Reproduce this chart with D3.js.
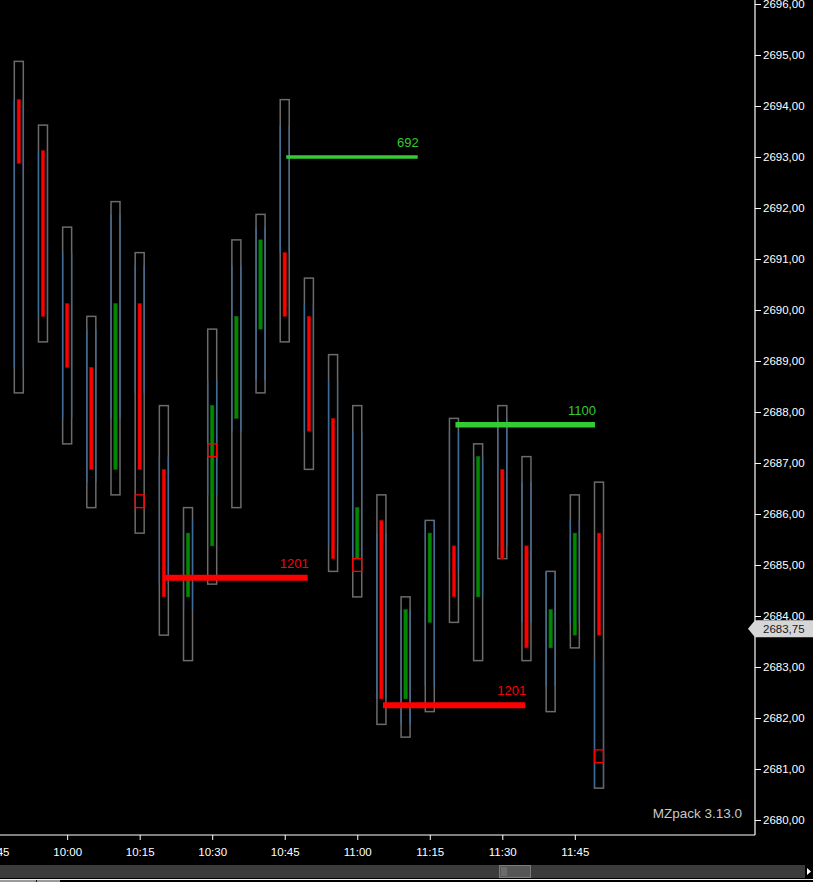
<!DOCTYPE html>
<html><head><meta charset="utf-8">
<script src="https://cdn.jsdelivr.net/npm/d3@7"></script>
<style>
html,body{margin:0;padding:0;background:#000;overflow:hidden}
svg{display:block}
text{font-family:"Liberation Sans",Arial,sans-serif}
</style></head>
<body>
<svg id="chart" width="813" height="882"></svg>
<script>
// ---- data ----
const times  = ["09:50","09:55","10:00","10:05","10:10","10:15","10:20","10:25","10:30","10:35","10:40","10:45","10:50","10:55","11:00","11:05","11:10","11:15","11:20","11:25","11:30","11:35","11:40","11:45","11:50"];
const opens  = [2694,2693,2690,2688.75,2687,2690,2686.75,2684.5,2685.5,2688,2689.75,2691,2689.75,2687.75,2685.25,2685.75,2682.5,2684,2685.25,2684.5,2686.75,2685.25,2683.5,2683.75,2685.5];
const highs  = [2694.75,2693.5,2691.5,2689.75,2692,2691,2688,2686,2689.5,2691.25,2691.75,2694,2690.5,2689,2688,2686.25,2684.25,2685.75,2687.75,2687.25,2688,2687,2684.75,2686.25,2686.5];
const lows   = [2688.5,2689.5,2687.5,2686.25,2686.5,2685.75,2683.75,2683.25,2684.75,2686.25,2688.5,2689.5,2687,2685,2684.5,2682,2681.75,2682.25,2684,2683.25,2685.25,2683.25,2682.25,2683.5,2680.75];
const closes = [2693,2690,2689,2687,2690,2687,2684.5,2685.5,2688,2689.75,2691.25,2690,2687.75,2685.25,2686,2682.5,2684,2685.5,2684.5,2687,2685.25,2683.5,2684,2685.5,2683.75];
const vaHighs = [2694,2693,2691,2689.5,2691.75,2690.75,2687,2685.75,2688.5,2690.75,2691.5,2693.5,2690,2688.5,2687.5,2685.5,2684,2685.75,2687.5,2687,2687.75,2686.5,2684.75,2685.75,2683];
const vaLows  = [2689,2690,2688,2686.75,2688,2688.5,2684.75,2684.25,2686.5,2687.75,2688.75,2691.25,2687.75,2685.5,2685.25,2682.5,2682,2682.75,2685,2684.5,2685.5,2684,2682.75,2684,2680.75];
const markTimes  = ["10:15","10:30","11:00","11:50"];
const markPrices = [2686.25,2687.25,2685,2681.25];
const levelPrices  = [2693,2687.75,2684.75,2682.25];
const levelVolumes = [692,1100,1201,1201];
const levelSides   = ["buy","buy","sell","sell"];
const levelStarts  = ["10:45","11:20","10:20","11:05"];
const levelEnds    = ["11:12:30","11:49:10","10:49:45","11:34:45"];
const xTickTimes = ["09:45","10:00","10:15","10:30","10:45","11:00","11:15","11:30","11:45"];
const yTickValues = d3.range(2680, 2697, 1);
const lastPrice = 2683.75;
const watermark = "MZpack 3.13.0";

// ---- scales ----
const parseT = s => (s.length > 5 ? d3.timeParse("%H:%M:%S") : d3.timeParse("%H:%M"))(s);
const W = 813, H = 882;
const axisX = 755, axisY = 835;
const x = d3.scaleTime().domain([parseT("09:50"), parseT("11:50")]).range([18.8, 599]);
const y = d3.scaleLinear().domain([2680, 2696]).range([820, 4]);
const half = (y(0) - y(0.25)) / 2;   // half a tick in px
const fmt = v => d3.format(".2f")(v).replace(".", ",");
const sideColor = {buy: "#33cc33", sell: "#ff0000"};
const widthScale = d3.scaleLinear().domain([0, 1201]).range([0, 6]);

const svg = d3.select("#chart");
svg.append("rect").attr("width", W).attr("height", H).attr("fill", "#000");

const plot = svg.append("g");
plot.append("clipPath").attr("id", "clip").append("rect")
  .attr("x", 0).attr("y", 0).attr("width", axisX).attr("height", axisY);
const g = plot.append("g").attr("clip-path", "url(#clip)");

const candles = times.map((t, i) => ({
  t: parseT(t), o: opens[i], h: highs[i], l: lows[i], c: closes[i], vh: vaHighs[i], vl: vaLows[i]
}));
const bw = 9;

// range boxes
g.selectAll("rect.box").data(candles).enter().append("rect")
  .attr("class", "box")
  .attr("x", d => x(d.t) - bw / 2).attr("width", bw)
  .attr("y", d => y(d.h) - half).attr("height", d => y(d.l) - y(d.h) + 2 * half)
  .attr("fill", "none").attr("stroke", "#6b6b6b").attr("stroke-width", 1.5);

// value-area side lines
[-1, 1].forEach(s => {
  g.selectAll("line.va" + (s > 0 ? "r" : "l")).data(candles).enter().append("line")
    .attr("x1", d => x(d.t) + s * bw / 2).attr("x2", d => x(d.t) + s * bw / 2)
    .attr("y1", d => y(d.vh) - half).attr("y2", d => y(d.vl) + half)
    .attr("stroke", "#3f6c96").attr("stroke-width", 1.2);
});

// bodies
g.selectAll("rect.body").data(candles).enter().append("rect")
  .attr("class", "body")
  .attr("x", d => x(d.t) - 1.7).attr("width", 3.4)
  .attr("y", d => y(Math.max(d.o, d.c)) - half)
  .attr("height", d => Math.abs(y(d.o) - y(d.c)) + 2 * half)
  .attr("fill", d => d.c >= d.o ? "#008a00" : "#ff0000")
  .attr("stroke", d => d.c >= d.o ? "#0a6a0a" : "#b00000").attr("stroke-width", 0.6);

// red marker cells
g.selectAll("rect.mark").data(markTimes.map((t, i) => ({t: parseT(t), p: markPrices[i]}))).enter().append("rect")
  .attr("x", d => x(d.t) - bw / 2).attr("width", bw)
  .attr("y", d => y(d.p) - half).attr("height", 2 * half)
  .attr("fill", "none").attr("stroke", "#ff0000").attr("stroke-width", 1.3);

// levels
const levels = levelPrices.map((p, i) => ({
  p, v: levelVolumes[i], side: levelSides[i], s: parseT(levelStarts[i]), e: parseT(levelEnds[i])
}));
g.selectAll("line.level").data(levels).enter().append("line")
  .attr("x1", d => x(d.s) + 1.5).attr("x2", d => x(d.e))
  .attr("y1", d => y(d.p)).attr("y2", d => y(d.p))
  .attr("stroke", d => sideColor[d.side]).attr("stroke-width", d => widthScale(d.v));
g.selectAll("text.level").data(levels).enter().append("text")
  .attr("x", d => x(d.e) + 1).attr("y", d => y(d.p) - 10)
  .attr("text-anchor", "end").attr("font-size", "13px")
  .attr("fill", d => sideColor[d.side]).text(d => d.v);

// watermark
svg.append("text").attr("x", 742).attr("y", 818).attr("text-anchor", "end")
  .attr("font-size", "13.5px").attr("fill", "#c8c8c8").text(watermark);

// ---- axes ----
svg.append("line").attr("x1", axisX).attr("x2", axisX).attr("y1", 0).attr("y2", axisY)
  .attr("stroke", "#fff").attr("stroke-width", 1.2);
svg.append("line").attr("x1", 0).attr("x2", axisX).attr("y1", axisY).attr("y2", axisY)
  .attr("stroke", "#fff").attr("stroke-width", 1.2);

const yAxis = d3.axisRight(y).tickValues(yTickValues).tickFormat(fmt).tickSize(6).tickPadding(2);
const ya = svg.append("g").attr("transform", `translate(${axisX},0)`).call(yAxis);
ya.select(".domain").remove();
ya.selectAll("line").attr("stroke", "#fff");
ya.selectAll("text").attr("fill", "#fff").attr("font-size", "11.5px")
  .attr("font-family", "'Liberation Sans',Arial,sans-serif");

const xAxis = d3.axisBottom(x).tickValues(xTickTimes.map(parseT))
  .tickFormat(d3.timeFormat("%H:%M")).tickSize(5).tickPadding(8);
const xa = svg.append("g").attr("transform", `translate(0,${axisY})`).call(xAxis);
xa.select(".domain").remove();
xa.selectAll("line").attr("stroke", "#fff");
xa.selectAll("text").attr("fill", "#fff").attr("font-size", "11.5px")
  .attr("font-family", "'Liberation Sans',Arial,sans-serif");

// last price tag
const ly = y(lastPrice);
svg.append("polygon")
  .attr("points", `748,${ly} 755,${ly - 8.5} 813,${ly - 8.5} 813,${ly + 8.5} 755,${ly + 8.5}`)
  .attr("fill", "#d6d6d6");
svg.append("text").attr("x", 763).attr("y", ly).attr("dy", "0.35em")
  .attr("font-size", "11.5px").attr("fill", "#1a1a1a").text(fmt(lastPrice));

// scrollbar
svg.append("rect").attr("x", 0).attr("y", 865).attr("width", W).attr("height", 13).attr("fill", "#3b3b3b");
svg.append("rect").attr("x", 499.5).attr("y", 865.5).attr("width", 31).attr("height", 12)
  .attr("fill", "#565656").attr("stroke", "#7a7a7a");
[502, 504, 506].forEach(px => svg.append("line").attr("x1", px).attr("x2", px)
  .attr("y1", 867).attr("y2", 876).attr("stroke", "#8a8a8a").attr("stroke-width", 0.8));
svg.append("rect").attr("x", 805).attr("y", 865).attr("width", 8).attr("height", 13).attr("fill", "#000");
svg.append("polygon").attr("points", "807,868 811,871.5 807,875").attr("fill", "#fff");
svg.append("line").attr("x1", 0).attr("x2", W).attr("y1", 879.5).attr("y2", 879.5).attr("stroke", "#eee");
svg.append("rect").attr("x", 0).attr("y", 880).attr("width", 60).attr("height", 2).attr("fill", "#9a9a9a");
svg.append("rect").attr("x", 36).attr("y", 880).attr("width", 1).attr("height", 2).attr("fill", "#111");
</script>
</body></html>
